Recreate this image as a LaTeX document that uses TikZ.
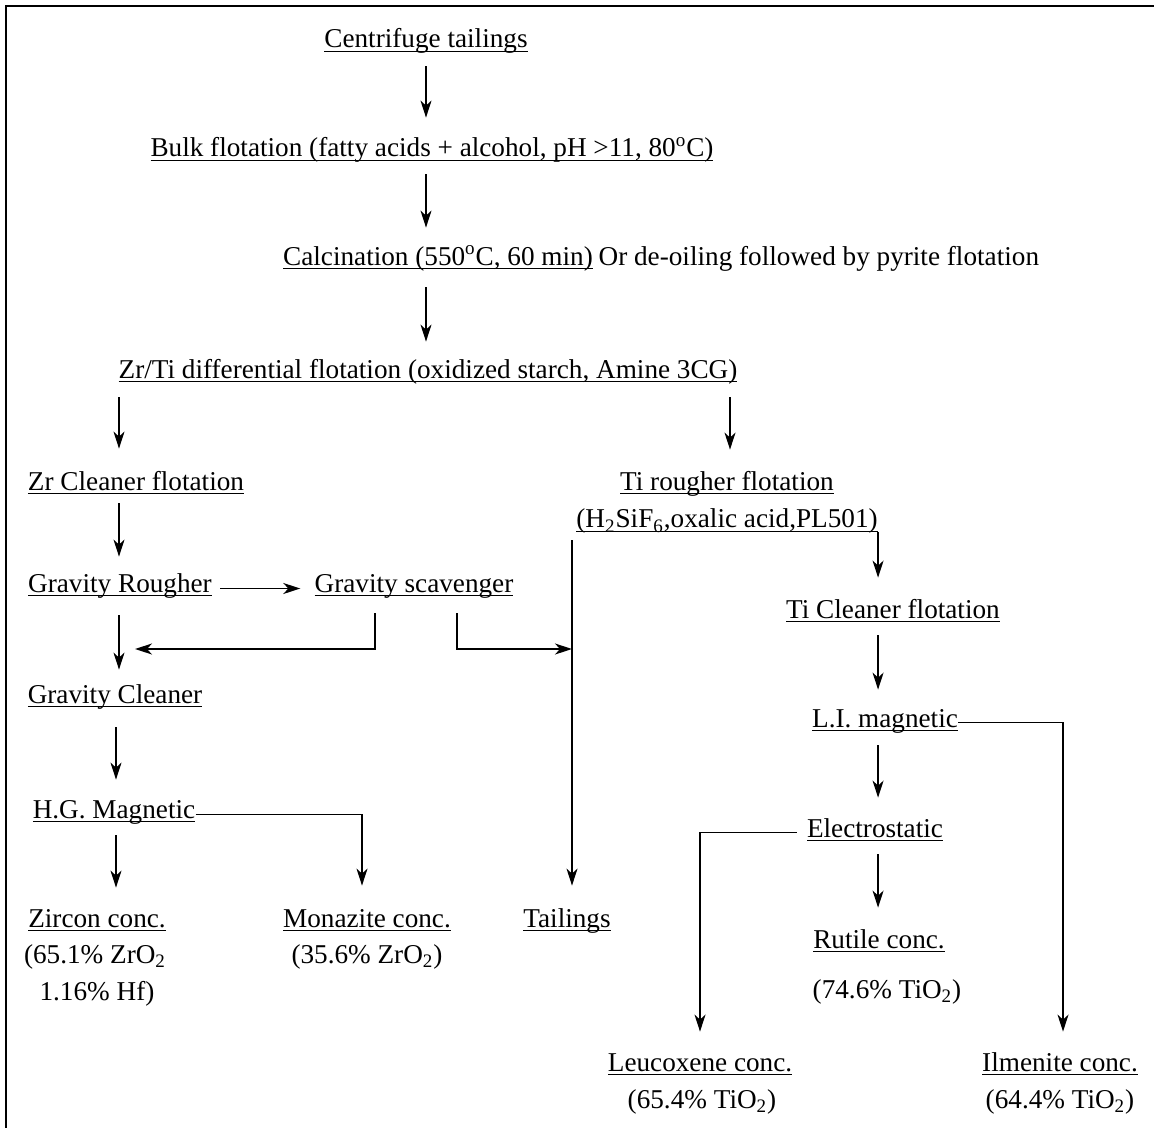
\documentclass[tikz,border=0pt]{standalone}
\usepackage{fontspec}
\setmainfont{Liberation Serif}
\usetikzlibrary{positioning,arrows.meta}
\newcommand{\undl}[1]{\setbox0=\hbox{#1}\rlap{\rule[-2.2pt]{\wd0}{0.7pt}}\box0}

\begin{document}
\begin{tikzpicture}[x=0.5pt, y=-0.5pt,
  lbl/.style={inner sep=0pt, text height=8.5pt, text depth=2pt, anchor=base, font=\fontsize{13.6}{16}\selectfont},
  flow/.style={-{Stealth[length=8.5pt, width=5.5pt, inset=2.5pt]}, line width=0.75pt},
  link/.style={line width=0.75pt}]
\useasboundingbox (0,0) rectangle (1154,1128);
% frame
\draw[link] (1154,6) -- (6,6) -- (6,1128);
% main line
\node[lbl] (centrifuge) at (426,48) {\undl{Centrifuge tailings}};
\node[lbl] (bulk) at (432,157) {\undl{Bulk flotation (fatty acids + alcohol, pH >11, 80\textsuperscript{o}C)}};
\node[lbl] (calc) at (438,265) {\undl{Calcination (550\textsuperscript{o}C, 60 min)}};
\node[lbl, right=2.5pt of calc] (calcalt) {Or de-oiling followed by pyrite flotation};
\node[lbl] (zrti) at (428,378) {\undl{Zr/Ti differential flotation (oxidized starch, Amine 3CG)}};
% zircon side
\node[lbl] (zrclean) at (136,490) {\undl{Zr Cleaner flotation}};
\node[lbl] (gravr) at (120,592) {\undl{Gravity Rougher}};
\node[lbl] (gravs) at (414,592) {\undl{Gravity scavenger}};
\node[lbl] (gravc) at (115,703) {\undl{Gravity Cleaner}};
\node[lbl] (hgmag) at (114,818) {\undl{H.G. Magnetic}};
\node[lbl] (zircon) at (97,927) {\undl{Zircon conc.}};
\node[lbl] (zirconA) at (95,963) {(65.1\% ZrO\textsubscript{2}};
\node[lbl] (zirconB) at (97,1000) {1.16\% Hf)};
\node[lbl] (monaz) at (367,927) {\undl{Monazite conc.}};
\node[lbl] (monazA) at (367,963) {(35.6\% ZrO\textsubscript{2})};
\node[lbl] (tail) at (567,927) {\undl{Tailings}};
% titanium side
\node[lbl] (tirough) at (727,490) {\undl{Ti rougher flotation}};
\node[lbl, below=8pt of tirough] (tireag) {\undl{(H\textsubscript{2}SiF\textsubscript{6},oxalic acid,PL501)}};
\node[lbl] (ticlean) at (893,618) {\undl{Ti Cleaner flotation}};
\node[lbl] (limag) at (885,727) {\undl{L.I. magnetic}};
\node[lbl] (electro) at (875,837) {\undl{Electrostatic}};
\node[lbl] (rutile) at (879,948) {\undl{Rutile conc.}};
\node[lbl] (rutileA) at (887,998) {(74.6\% TiO\textsubscript{2})};
\node[lbl] (leuco) at (700,1071) {\undl{Leucoxene conc.}};
\node[lbl] (leucoA) at (702,1108) {(65.4\% TiO\textsubscript{2})};
\node[lbl] (ilmen) at (1060,1071) {\undl{Ilmenite conc.}};
\node[lbl] (ilmenA) at (1060,1108) {(64.4\% TiO\textsubscript{2})};
% free ends
\coordinate (tailtop) at (572,540);
\coordinate (mixL) at (135,649);
\coordinate (mixR) at (572,649);
% main arrows
\draw[flow, shorten <=7pt, shorten >=11pt] (centrifuge.south) -- (centrifuge.south |- bulk.north);
\draw[flow, shorten <=6.5pt, shorten >=10pt] (centrifuge.south |- bulk.south) -- (centrifuge.south |- calc.north);
\draw[flow, shorten <=9pt, shorten >=9.5pt] (centrifuge.south |- calc.south) -- (centrifuge.south |- zrti.north);
\draw[flow, shorten <=7.5pt, shorten >=12pt] ([xshift=-154.5pt]zrti.south) -- ([xshift=-154.5pt]zrti.south |- zrclean.north);
\draw[flow, shorten <=7.5pt, shorten >=11.5pt] ([xshift=151pt]zrti.south) -- ([xshift=151pt]zrti.south |- tirough.north);
% zircon circuit
\draw[flow, shorten <=4.5pt, shorten >=9pt] ([xshift=-8.5pt]zrclean.south) -- ([xshift=-8.5pt]zrclean.south |- gravr.north);
\draw[flow, shorten <=9.5pt, shorten >=8pt] ([xshift=-8.5pt]zrclean.south |- gravr.south) -- ([xshift=-8.5pt]zrclean.south |- gravc.north);
\draw[flow, shorten <=4pt, shorten >=7pt] ([yshift=-1.5pt]gravr.east) -- ([yshift=-1.5pt]gravs.west);
\draw[flow, shorten <=8.5pt] ([xshift=-19.5pt]gravs.south) |- (mixL);
\draw[flow, shorten <=8.5pt] ([xshift=21.5pt]gravs.south) |- (mixR);
\draw[flow, shorten <=10pt, shorten >=10.5pt] ([xshift=0.5pt]gravc.south) -- ([xshift=0.5pt]gravc.south |- hgmag.north);
\draw[flow, shorten <=6.5pt, shorten >=11pt] ([xshift=1pt]hgmag.south) -- ([xshift=1pt]hgmag.south |- zircon.north);
\draw[flow, shorten >=12pt] ([yshift=-1.5pt]hgmag.east) -| ([xshift=-2.5pt]monaz.north);
\draw[flow, shorten >=12pt] (tailtop) -- (tailtop |- tail.north);
% titanium circuit
\draw[flow, shorten >=11.5pt] (tireag.south east) -- (tireag.south east |- ticlean.north);
\draw[flow, shorten <=6.5pt, shorten >=10pt] (tireag.south east |- ticlean.south) -- (tireag.south east |- limag.north);
\draw[flow, shorten <=7pt, shorten >=11pt] (tireag.south east |- limag.south) -- (tireag.south east |- electro.north);
\draw[flow, shorten <=6.5pt, shorten >=11.5pt] (tireag.south east |- electro.south) -- (tireag.south east |- rutile.north);
\draw[flow, shorten >=11pt] ([yshift=-1pt]limag.east) -| ([xshift=1.5pt]ilmen.north);
\draw[flow, shorten <=5pt, shorten >=11pt] ([yshift=-1pt]electro.west) -| (leuco.north);
\end{tikzpicture}
\end{document}
